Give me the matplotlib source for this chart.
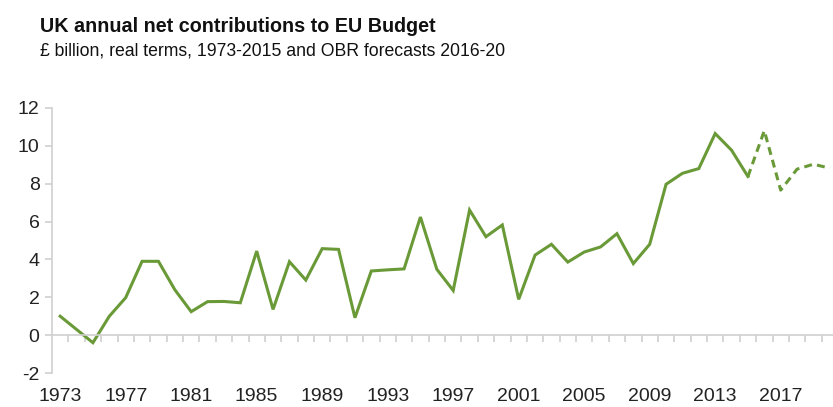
import numpy as np
import matplotlib.pyplot as plt
from matplotlib.ticker import FixedLocator

years = list(range(1973, 2021))
actual = [1.0, 0.3, -0.4, 1.0, 1.98, 3.9, 3.9, 2.4, 1.24, 1.77, 1.78, 1.71,
          4.44, 1.36, 3.88, 2.91, 4.57, 4.53, 0.92, 3.39, 3.45, 3.5, 6.24,
          3.48, 2.36, 6.61, 5.2, 5.82, 1.89, 4.23, 4.8, 3.86, 4.39, 4.66,
          5.36, 3.78, 4.8, 7.97, 8.55, 8.8, 10.65, 9.77, 8.38]
forecast_years = list(range(2015, 2021))
forecast = [8.38, 10.8, 7.66, 8.77, 9.03, 8.82]
tick_years = list(range(1973, 2021, 4))

plt.rcParams['font.family'] = ['Liberation Sans', 'DejaVu Sans']
green = '#6a9a38'
grey = '#d0d0d0'

fig = plt.figure(figsize=(8.33, 4.07), dpi=100)
ax = fig.add_axes([52 / 833, 1 - 373 / 407, 786 / 833, 265 / 407])

idx = {y: i for i, y in enumerate(years)}
ax.plot([idx[y] for y in years[:len(actual)]], actual, color=green, lw=2.2,
        solid_joinstyle='miter')
ax.plot([idx[y] for y in forecast_years], forecast, color=green, lw=2.2,
        dashes=(2.6, 1.7))

ax.set_xlim(-0.5, len(years) - 0.5)
ax.set_ylim(-2, 12)
ax.set_yticks(np.arange(-2, 13, 2))
ax.set_yticklabels([str(v) for v in range(-2, 13, 2)])

for s in ['top', 'right']:
    ax.spines[s].set_visible(False)
ax.spines['left'].set_color(grey)
ax.spines['bottom'].set_color(grey)
ax.spines['bottom'].set_position(('data', 0))
ax.spines['left'].set_linewidth(1.2)
ax.spines['bottom'].set_linewidth(1.2)

ax.set_xticks([idx[y] for y in tick_years])
ax.set_xticklabels([str(y) for y in tick_years])
ax.xaxis.set_minor_locator(FixedLocator(np.arange(0.5, len(years) - 0.5, 1)))
ax.tick_params(axis='x', which='major', length=0, pad=38, labelsize=14,
               labelcolor='#222222')
ax.tick_params(axis='x', which='minor', length=5, width=1.2, color=grey,
               direction='out')
ax.tick_params(axis='y', length=5, width=1.2, color=grey, labelsize=14,
               labelcolor='#222222', pad=4)

fig.text(40 / 833, 1 - 32 / 407, 'UK annual net contributions to EU Budget',
         fontsize=14.2, fontweight='bold', color='#111111', va='baseline')
fig.text(40 / 833, 1 - 55 / 407,
         '£ billion, real terms, 1973-2015 and OBR forecasts 2016-20',
         fontsize=12.7, color='#111111', va='baseline')

fig.savefig('out.png', dpi=100)
